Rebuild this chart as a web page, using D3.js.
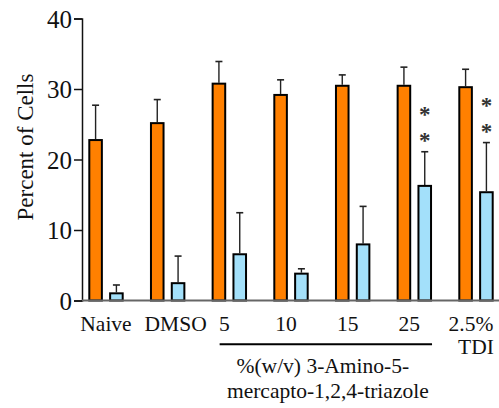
<!DOCTYPE html>
<html>
<head>
<meta charset="utf-8">
<script src="https://cdn.jsdelivr.net/npm/d3@7"></script>
<style>
  html, body { margin: 0; padding: 0; background: #fff; }
  svg { display: block; }
  text { font-family: "Liberation Serif", "Times New Roman", serif; fill: #111; }
</style>
</head>
<body>
<svg id="chart" width="499" height="408"></svg>
<script>
// ---- data ----
const categories = ["Naive", "DMSO", "5", "10", "15", "25", "2.5%"];
const orangeValues = [22.9, 25.3, 30.9, 29.3, 30.6, 30.6, 30.4];
const orangeErrors = [27.7, 28.5, 33.9, 31.3, 32.0, 33.1, 32.8];
const blueValues   = [1.16, 2.6, 6.7, 3.95, 8.1, 16.4, 15.5];
const blueErrors   = [2.2, 6.3, 12.45, 4.5, 13.35, 21.1, 22.4];
const significant  = [false, false, false, false, false, true, true];
const yTicks = [0, 10, 20, 30, 40];
const yLabel = "Percent of Cells";
const secondLine = ["", "", "", "", "", "", "TDI"];
const bracketCategories = ["5", "25"];
const bracketCaption = ["%(w/v) 3-Amino-5-", "mercapto-1,2,4-triazole"];

// ---- chart ----
const svg = d3.select("#chart");
const orange = "#ff8000", blue = "#a3e0fa";

const y = d3.scaleLinear().domain([0, 40]).range([300.5, 18.5]);
const x = d3.scaleBand().domain(categories).range([88.3, 493.7]).paddingInner(0.426).paddingOuter(0);
const xs = d3.scaleBand().domain(["o", "b"]).range([0, x.bandwidth()]).paddingInner(0.3);

const rows = categories.map((c, i) => ({
  c, i,
  bars: [
    {k: "o", v: orangeValues[i], e: orangeErrors[i], color: orange},
    {k: "b", v: blueValues[i], e: blueErrors[i], color: blue}
  ]
}));

const g = svg.append("g");
const groups = g.selectAll("g.grp").data(rows).join("g")
  .attr("transform", d => `translate(${x(d.c)},0)`);

const bars = groups.selectAll("g.bar").data(d => d.bars).join("g");
const bw = xs.bandwidth();

// error bars
bars.append("line")
  .attr("x1", d => xs(d.k) + bw / 2).attr("x2", d => xs(d.k) + bw / 2)
  .attr("y1", d => y(d.v)).attr("y2", d => y(d.e))
  .attr("stroke", "#222").attr("stroke-width", 1.4);
bars.append("line")
  .attr("x1", d => xs(d.k) + bw / 2 - 3.5).attr("x2", d => xs(d.k) + bw / 2 + 3.5)
  .attr("y1", d => y(d.e)).attr("y2", d => y(d.e))
  .attr("stroke", "#222").attr("stroke-width", 1.6);

bars.append("rect")
  .attr("x", d => xs(d.k) + 1)
  .attr("width", bw - 2)
  .attr("y", d => y(d.v) + 1)
  .attr("height", d => y(0) - y(d.v) - 1)
  .attr("fill", d => d.color)
  .attr("stroke", "#000").attr("stroke-width", 2);

// significance asterisks
groups.filter(d => significant[d.i]).each(function(d) {
  const cx = xs("b") + bw / 2;
  const top = y(blueErrors[d.i]);
  [16, 42].forEach(off => {
    d3.select(this).append("text")
      .attr("x", cx).attr("y", top - off + 12.2)
      .attr("text-anchor", "middle")
      .style("font-size", "23px").style("font-weight", "bold").style("fill", "#333")
      .text("*");
  });
});

// y axis
const yAxis = d3.axisLeft(y).tickValues(yTicks).tickSize(8).tickPadding(2);
const ya = svg.append("g").attr("transform", "translate(82,0)").call(yAxis);
ya.attr("font-family", null);
ya.select(".domain").attr("stroke", "#111").attr("stroke-width", 1.5);
ya.selectAll(".tick line").attr("stroke", "#111").attr("stroke-width", 1.5);
ya.selectAll(".tick text").style("font-size", "25px")
  .style("font-family", "'Liberation Serif', serif").attr("fill", "#111").attr("dy", "0.34em");

// x axis baseline
svg.append("line").attr("x1", 82).attr("x2", 499)
  .attr("y1", y(0)).attr("y2", y(0))
  .attr("stroke", "#666").attr("stroke-width", 2);

// y label
svg.append("text")
  .attr("transform", `translate(33,147) rotate(-90)`)
  .attr("text-anchor", "middle")
  .style("font-size", "23px")
  .text(yLabel);

// x labels
const labelShift = c => (c === "Naive" ? 0 : c === "DMSO" ? 8 : -5);
svg.selectAll("text.xl").data(categories).join("text")
  .attr("class", "xl")
  .attr("x", c => x(c) + x.bandwidth() / 2 + labelShift(c))
  .attr("y", 331)
  .attr("text-anchor", "middle")
  .style("font-size", "21.5px")
  .text(c => c);
svg.selectAll("text.xl2").data(categories.filter((c, i) => secondLine[i])).join("text")
  .attr("class", "xl2")
  .attr("x", c => x(c) + x.bandwidth() / 2)
  .attr("y", 354)
  .attr("text-anchor", "middle")
  .style("font-size", "21.5px")
  .text(c => secondLine[categories.indexOf(c)]);

// bracket line and caption
const bx0 = x(bracketCategories[0]) + 8;
const bx1 = x(bracketCategories[1]) + x.bandwidth();
svg.append("line").attr("x1", bx0).attr("x2", bx1)
  .attr("y1", 344.3).attr("y2", 344.3)
  .attr("stroke", "#000").attr("stroke-width", 2);
bracketCaption.forEach((t, i) => {
  svg.append("text")
    .attr("x", (bx0 + bx1) / 2 + (i === 0 ? -3 : 2))
    .attr("y", 372.5 + i * 25.5)
    .attr("text-anchor", "middle")
    .style("font-size", "21.5px")
    .text(t);
});
</script>
</body>
</html>
